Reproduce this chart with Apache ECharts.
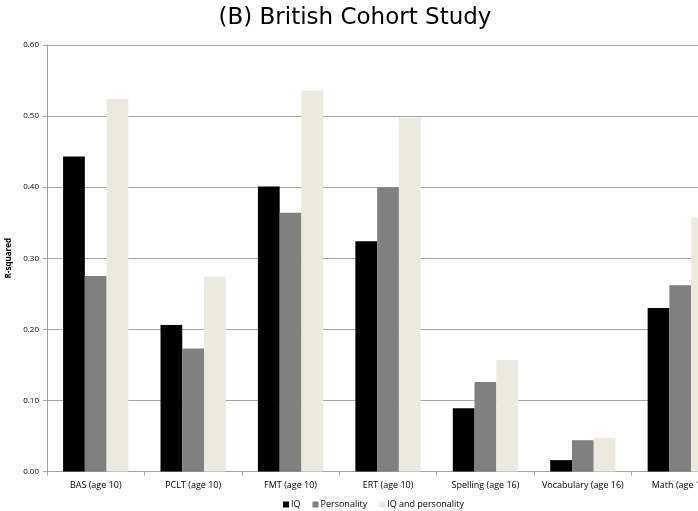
<!DOCTYPE html>
<html>
<head>
<meta charset="utf-8">
<script src="https://cdn.jsdelivr.net/npm/echarts@6/dist/echarts.min.js"></script>
<style>html,body{margin:0;padding:0;background:#fff;overflow:hidden;}#c{width:760px;height:511px;}</style>
</head>
<body>
<div id="c"></div>
<script>
const categories = ['BAS (age 10)', 'PCLT (age 10)', 'FMT (age 10)', 'ERT (age 10)', 'Spelling (age 16)', 'Vocabulary (age 16)', 'Math (age 16)'];
const iq = [0.443, 0.206, 0.401, 0.324, 0.089, 0.016, 0.230];
const personality = [0.275, 0.173, 0.364, 0.400, 0.126, 0.044, 0.262];
const both = [0.524, 0.274, 0.536, 0.498, 0.157, 0.047, 0.357];
const seriesNames = ['IQ', 'Personality', 'IQ and personality'];

const chart = echarts.init(document.getElementById('c'));
const lab = {fontFamily: 'Open Sans', fontSize: 9, color: '#000'};
chart.setOption({
  animation: false,
  backgroundColor: '#fff',
  title: {
    text: '(B) British Cohort Study', left: 350, textAlign: 'center', top: 2,
    textStyle: {fontFamily: 'DejaVu Sans', fontWeight: 'normal', fontSize: 23, color: '#000'}
  },
  legend: {
    data: seriesNames, left: 278, bottom: -3, itemWidth: 6, itemHeight: 6, itemGap: 12,
    icon: 'rect', textStyle: Object.assign({}, lab, {padding: [0, 0, 0, -3]})
  },
  grid: {left: 47, right: 31, top: 45, bottom: 39.5, outerBoundsMode: 'none', containLabel: false},
  xAxis: {
    type: 'category', data: categories,
    axisLine: {lineStyle: {color: '#a0a0a0'}},
    axisTick: {show: true, length: 4, lineStyle: {color: '#a0a0a0'}},
    axisLabel: Object.assign({}, lab, {margin: 9, interval: 0})
  },
  yAxis: {
    type: 'value', min: 0, max: 0.6, interval: 0.1,
    name: 'R-squared', nameLocation: 'middle', nameGap: 27,
    nameTextStyle: {fontFamily: 'Open Sans', fontSize: 8, fontWeight: 'bold', color: '#000'},
    axisLine: {show: true, lineStyle: {color: '#a0a0a0'}},
    axisTick: {show: true, length: 4, lineStyle: {color: '#a0a0a0'}},
    splitLine: {lineStyle: {color: '#a6a6a6'}},
    axisLabel: Object.assign({}, lab, {fontSize: 8, margin: 8, formatter: v => v.toFixed(2)})
  },
  series: [
    {name: seriesNames[0], type: 'bar', data: iq, itemStyle: {color: '#000000'}, barGap: '0%', barCategoryGap: '33%'},
    {name: seriesNames[1], type: 'bar', data: personality, itemStyle: {color: '#808080'}},
    {name: seriesNames[2], type: 'bar', data: both, itemStyle: {color: '#ECEADF'}}
  ]
});
</script>
</body>
</html>
